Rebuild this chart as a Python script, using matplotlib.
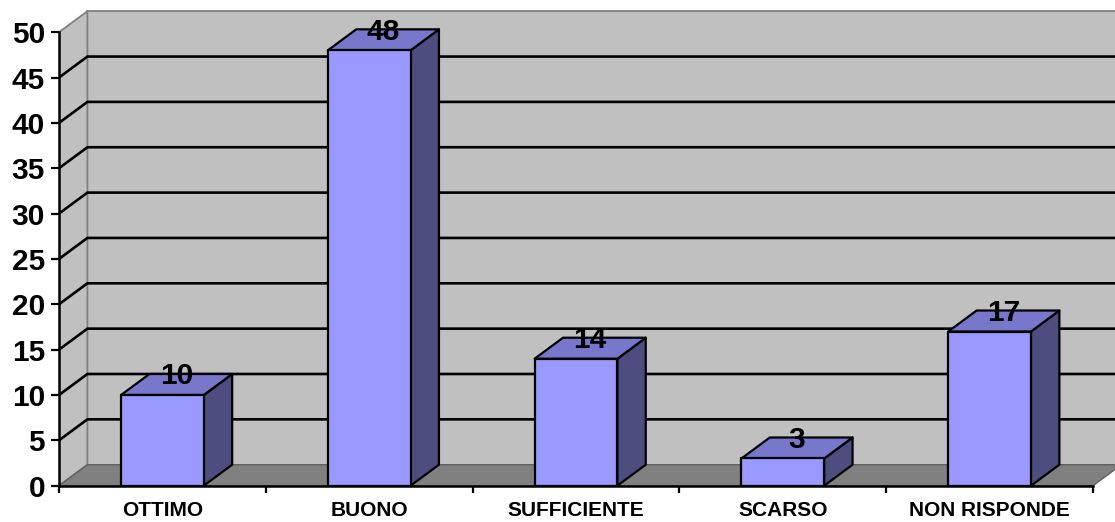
import matplotlib
matplotlib.use("Agg")
import matplotlib.pyplot as plt
from matplotlib.patches import Polygon, Rectangle

categories = ["OTTIMO", "BUONO", "SUFFICIENTE", "SCARSO", "NON RISPONDE"]
values = [10, 48, 14, 3, 17]
yticks = [0, 5, 10, 15, 20, 25, 30, 35, 40, 45, 50]

plt.rcParams['font.family'] = ['Liberation Sans', 'DejaVu Sans']

W, H = 1115, 522
fig = plt.figure(figsize=(W / 100, H / 100), dpi=100)
px_cat = 206.8
px_unit = 9.07
x_left_px = 59
y0_px = 485.7
ymax = 53.0
xmax = (W - x_left_px) / px_cat
ax = fig.add_axes([x_left_px / W, (H - y0_px) / H, (W - x_left_px) / W,
                   (ymax * px_unit) / H])
ax.set_xlim(0, xmax)
ax.set_ylim(0, ymax)
ax.patch.set_visible(False)

n = len(categories)
ddx = 28.4 / px_cat
ddy = 21.0 / px_unit
top = yticks[-1]

wall = '#C0C0C0'
edge = '#808080'
# back wall
ax.add_patch(Rectangle((ddx, ddy), xmax + 1 - ddx, top, facecolor=wall,
                       edgecolor=edge, lw=1.3, zorder=0, clip_on=True))
# side wall
ax.add_patch(Polygon([(0, 0), (ddx, ddy), (ddx, top + ddy), (0, top)],
                     closed=True, facecolor=wall, edgecolor=edge, lw=1.3, zorder=0))
# floor
ax.add_patch(Polygon([(0, 0), (n, 0), (n + ddx, ddy), (ddx, ddy)], closed=True,
                     facecolor='#808080', edgecolor='#606060', lw=1.0, zorder=0.5))

# gridlines
for t in yticks[1:-1]:
    ax.plot([0, ddx, xmax + 1], [t, t + ddy, t + ddy], color='black', lw=1.9,
            zorder=1, solid_capstyle='butt')

front_c = '#9999FF'
top_c = '#7777CC'
side_c = '#4D4D80'
bw = 0.4
for i, v in enumerate(values):
    c = i + 0.5
    x0, x1 = c - bw / 2, c + bw / 2
    ax.add_patch(Polygon([(x1, 0), (x1 + ddx, ddy), (x1 + ddx, v + ddy), (x1, v)],
                         closed=True, facecolor=side_c, edgecolor='black', lw=1.6,
                         zorder=3, joinstyle='round'))
    ax.add_patch(Polygon([(x0, v), (x1, v), (x1 + ddx, v + ddy), (x0 + ddx, v + ddy)],
                         closed=True, facecolor=top_c, edgecolor='black', lw=1.6,
                         zorder=3, joinstyle='round'))
    ax.add_patch(Rectangle((x0, 0), bw, v, facecolor=front_c, edgecolor='black',
                           lw=1.6, zorder=4, joinstyle='round'))
    ax.text(c + ddx / 2, v + ddy / 2, str(v), ha='center', va='baseline',
            fontsize=21.5, fontweight='bold', color='black', zorder=6)

# spines
for s in ['top', 'right']:
    ax.spines[s].set_visible(False)
ax.spines['left'].set_bounds(0, top)
ax.spines['bottom'].set_bounds(0, n)
for s in ['left', 'bottom']:
    ax.spines[s].set_linewidth(1.8)
    ax.spines[s].set_zorder(5)

ax.set_yticks(yticks)
ax.set_yticklabels([str(t) for t in yticks], fontsize=21.5, fontweight='bold')
ax.tick_params(axis='y', length=6, width=1.6, pad=4, direction='out')

ax.set_xticks(range(n + 1))
ax.set_xticklabels([])
ax.set_xticks([i + 0.5 for i in range(n)], minor=True)
ax.set_xticklabels(categories, minor=True, fontsize=15, fontweight='bold')
ax.tick_params(axis='x', which='major', length=5, width=1.6, direction='out')
ax.tick_params(axis='x', which='minor', length=0, pad=11)

fig.savefig('out.png', dpi=100)
